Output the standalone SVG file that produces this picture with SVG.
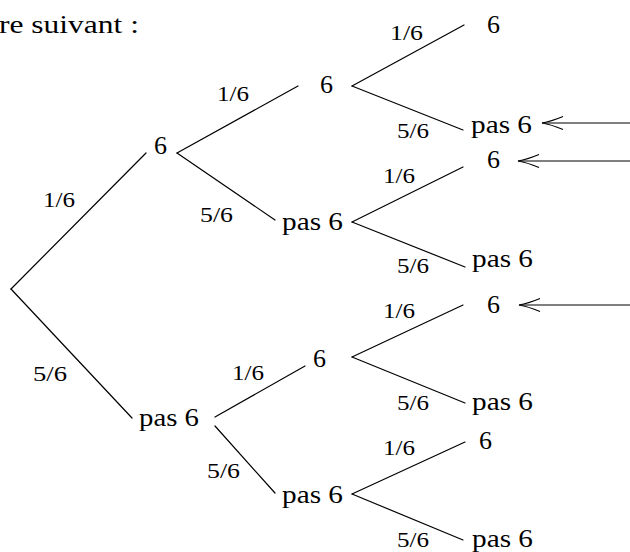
<svg xmlns="http://www.w3.org/2000/svg" width="630" height="552" viewBox="0 0 630 552">
  <style>
    .bg { fill: #ffffff; }
    .edge { stroke: #000; stroke-width: 1.2; fill: none; stroke-linecap: round; }
    .arrow { stroke: #000; stroke-width: 1.1; fill: none; }
    text { font-family: 'Liberation Serif', 'Times New Roman', serif; fill: #000; }
    .node { font-size: 26px; }
    .prob { font-size: 22px; }
    .head { font-size: 25px; }
  </style>
  <defs>
    <!-- open, curved arrowhead pointing left -->
    <path id="tipL" d="M21,-6.5 Q9,-1.5 0,0 Q9,1.5 21,6.5" class="arrow"/>
  </defs>

  <rect class="bg" x="0" y="0" width="630" height="552"/>

  <text class="head" x="-1" y="33" textLength="140" lengthAdjust="spacingAndGlyphs">re suivant :</text>

  <!-- branches of the tree -->
  <g id="connectors">
    <line class="edge" x1="11" y1="289" x2="146" y2="153"/>
    <line class="edge" x1="11" y1="289" x2="132" y2="418"/>
    <line class="edge" x1="177" y1="153" x2="298" y2="86"/>
    <line class="edge" x1="177" y1="153" x2="275" y2="220"/>
    <line class="edge" x1="215" y1="417" x2="305" y2="366"/>
    <line class="edge" x1="215" y1="426" x2="275" y2="493"/>
    <line class="edge" x1="352" y1="86" x2="464" y2="25"/>
    <line class="edge" x1="352" y1="86" x2="463" y2="130"/>
    <line class="edge" x1="352" y1="222" x2="463" y2="167"/>
    <line class="edge" x1="352" y1="222" x2="465" y2="267"/>
    <line class="edge" x1="352" y1="357" x2="463" y2="305"/>
    <line class="edge" x1="352" y1="357" x2="465" y2="403"/>
    <line class="edge" x1="352" y1="494" x2="465" y2="442"/>
    <line class="edge" x1="352" y1="494" x2="463" y2="540"/>

    <!-- pointers to selected outcomes -->
    <line class="arrow" x1="542" y1="123" x2="630" y2="123"/>
    <use href="#tipL" x="542" y="123"/>
    <line class="arrow" x1="518" y1="161" x2="630" y2="161"/>
    <use href="#tipL" x="518" y="161"/>
    <line class="arrow" x1="519" y1="305" x2="630" y2="305"/>
    <use href="#tipL" x="519" y="305"/>
  </g>

  <!-- probabilities on branches -->
  <g id="probabilities">
    <text class="prob" x="43" y="207" textLength="32" lengthAdjust="spacingAndGlyphs">1/6</text>
    <text class="prob" x="33" y="381" textLength="34" lengthAdjust="spacingAndGlyphs">5/6</text>
    <text class="prob" x="217" y="101" textLength="32" lengthAdjust="spacingAndGlyphs">1/6</text>
    <text class="prob" x="200" y="222" textLength="33" lengthAdjust="spacingAndGlyphs">5/6</text>
    <text class="prob" x="232" y="380" textLength="32" lengthAdjust="spacingAndGlyphs">1/6</text>
    <text class="prob" x="207" y="478" textLength="33" lengthAdjust="spacingAndGlyphs">5/6</text>
    <text class="prob" x="390" y="40" textLength="33" lengthAdjust="spacingAndGlyphs">1/6</text>
    <text class="prob" x="397" y="138" textLength="32" lengthAdjust="spacingAndGlyphs">5/6</text>
    <text class="prob" x="383" y="183" textLength="32" lengthAdjust="spacingAndGlyphs">1/6</text>
    <text class="prob" x="397" y="273" textLength="32" lengthAdjust="spacingAndGlyphs">5/6</text>
    <text class="prob" x="383" y="318" textLength="32" lengthAdjust="spacingAndGlyphs">1/6</text>
    <text class="prob" x="397" y="410" textLength="32" lengthAdjust="spacingAndGlyphs">5/6</text>
    <text class="prob" x="383" y="455" textLength="32" lengthAdjust="spacingAndGlyphs">1/6</text>
    <text class="prob" x="397" y="547" textLength="32" lengthAdjust="spacingAndGlyphs">5/6</text>
  </g>

  <!-- first draw -->
  <g id="n1-six"><text class="node" x="154" y="154">6</text></g>
  <g id="n1-pas6"><text class="node" x="139" y="426" textLength="60" lengthAdjust="spacingAndGlyphs">pas 6</text></g>

  <!-- second draw -->
  <g id="n2-six-six"><text class="node" x="320" y="93">6</text></g>
  <g id="n2-six-pas6"><text class="node" x="282" y="230" textLength="61" lengthAdjust="spacingAndGlyphs">pas 6</text></g>
  <g id="n2-pas6-six"><text class="node" x="313" y="367">6</text></g>
  <g id="n2-pas6-pas6"><text class="node" x="282" y="503" textLength="61" lengthAdjust="spacingAndGlyphs">pas 6</text></g>

  <!-- third draw -->
  <g id="n3-a"><text class="node" x="487" y="33">6</text></g>
  <g id="n3-b"><text class="node" x="471" y="133" textLength="61" lengthAdjust="spacingAndGlyphs">pas 6</text></g>
  <g id="n3-c"><text class="node" x="487" y="168">6</text></g>
  <g id="n3-d"><text class="node" x="472" y="267" textLength="61" lengthAdjust="spacingAndGlyphs">pas 6</text></g>
  <g id="n3-e"><text class="node" x="487" y="313">6</text></g>
  <g id="n3-f"><text class="node" x="472" y="410" textLength="61" lengthAdjust="spacingAndGlyphs">pas 6</text></g>
  <g id="n3-g"><text class="node" x="479" y="449">6</text></g>
  <g id="n3-h"><text class="node" x="472" y="547" textLength="61" lengthAdjust="spacingAndGlyphs">pas 6</text></g>
</svg>
